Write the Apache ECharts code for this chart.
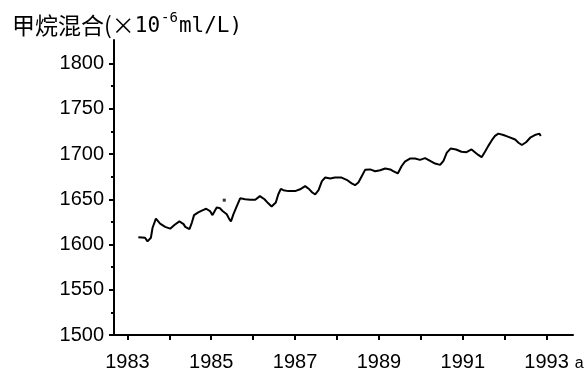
<!DOCTYPE html>
<html>
<head>
<meta charset="utf-8">
<script src="https://cdn.jsdelivr.net/npm/echarts@6/dist/echarts.min.js"></script>
<style>
  html, body { margin: 0; padding: 0; background: #fff; }
  #chart { width: 587px; height: 372px; }
</style>
</head>
<body>
<div id="chart"></div>
<script>
// Atmospheric methane mixing ratio, 1983–1993 (×10⁻⁶ ml/L)
const years = [
  1983.26, 1983.42, 1983.48, 1983.56, 1983.60, 1983.68, 1983.78, 1983.90,
  1984.02, 1984.12, 1984.24, 1984.34, 1984.38, 1984.48, 1984.54, 1984.59,
  1984.69, 1984.80, 1984.88, 1984.97, 1985.03, 1985.13, 1985.21, 1985.27,
  1985.37, 1985.43, 1985.47, 1985.53, 1985.61, 1985.69, 1985.81, 1985.93,
  1986.05, 1986.16, 1986.27, 1986.36, 1986.44, 1986.54, 1986.60, 1986.66,
  1986.72, 1986.84, 1987.00, 1987.12, 1987.24, 1987.34, 1987.41, 1987.48,
  1987.56, 1987.64, 1987.72, 1987.84, 1987.95, 1988.11, 1988.23, 1988.35,
  1988.43, 1988.51, 1988.59, 1988.67, 1988.79, 1988.91, 1989.03, 1989.15,
  1989.27, 1989.34, 1989.45, 1989.54, 1989.62, 1989.74, 1989.86, 1989.98,
  1990.10, 1990.20, 1990.34, 1990.46, 1990.54, 1990.62, 1990.71, 1990.84,
  1990.97, 1991.09, 1991.21, 1991.29, 1991.37, 1991.45, 1991.53, 1991.61,
  1991.69, 1991.77, 1991.85, 1991.97, 1992.09, 1992.25, 1992.33, 1992.41,
  1992.51, 1992.62, 1992.72, 1992.83, 1992.86
];
const methane = [
  1608, 1607.5, 1603.5, 1607.5, 1618.5, 1628.5, 1623, 1619.5,
  1617.5, 1621.5, 1625.5, 1622.5, 1619.5, 1617, 1624.5, 1632.5,
  1635.5, 1638, 1639.5, 1637, 1632.5, 1641, 1640, 1637,
  1633.5, 1628, 1625.5, 1633.5, 1642.5, 1651, 1650, 1649.5,
  1649.5, 1653.5, 1650, 1645.5, 1642, 1646.5, 1655.5, 1661.5,
  1660, 1659, 1659, 1661, 1664.5, 1661, 1657.5, 1655.5,
  1660, 1670, 1674, 1673, 1674, 1674, 1671.5, 1667.5,
  1665.5, 1668.5, 1675.5, 1682.5, 1683, 1681, 1682, 1684,
  1683, 1681, 1678.5, 1686.5, 1691.5, 1695, 1695, 1693.5,
  1695.5, 1693, 1689.5, 1688, 1692.5, 1701.5, 1706, 1705,
  1702.5, 1702, 1705, 1702, 1699, 1696.5, 1702.5, 1709,
  1715, 1720, 1722.5, 1721, 1719, 1716, 1712.5, 1710,
  1713, 1718.5, 1721, 1722.5, 1720
];
// isolated reading standing off the curve in 1985
const strayYears = [1985.31];
const strayValues = [1649];

const xMajorTicks = [1983, 1984, 1985, 1986, 1987, 1988, 1989, 1990, 1991, 1992, 1993];
const xLabels = [1983, 1985, 1987, 1989, 1991, 1993];
const yMajorTicks = [1500, 1550, 1600, 1650, 1700, 1750, 1800];
const yMinorTicks = [1525, 1575, 1625, 1675, 1725, 1775];

const titleText = '{c|甲烷混合(×}{m|10}{s|-6}{m|ml/L)}';
const xUnit = 'a';

const zip = (a, b) => a.map((v, i) => [v, b[i]]);

const labelFont = {
  color: '#000',
  fontFamily: '"Liberation Sans", Arial, sans-serif',
  fontSize: 20
};

const chart = echarts.init(document.getElementById('chart'), null, { renderer: 'canvas' });
chart.setOption({
  backgroundColor: '#fff',
  animation: false,
  title: {
    text: titleText,
    left: 12,
    top: 11,
    padding: 0,
    textStyle: {
      color: '#000',
      fontSize: 23,
      fontWeight: 'normal',
      rich: {
        c: {
          color: '#000',
          fontFamily: '"Noto Sans CJK SC", sans-serif',
          fontSize: 23,
          verticalAlign: 'bottom'
        },
        m: {
          color: '#000',
          fontFamily: '"DejaVu Sans Mono", monospace',
          fontSize: 21,
          verticalAlign: 'bottom'
        },
        s: {
          color: '#000',
          fontFamily: '"DejaVu Sans Mono", monospace',
          fontSize: 14,
          verticalAlign: 'top',
          padding: [0, 1, 12, 1]
        }
      }
    }
  },
  grid: { left: 114, right: 14, top: 40, bottom: 36, containLabel: false },
  xAxis: {
    type: 'value',
    min: 1982.68,
    max: 1993.63,
    name: xUnit,
    nameLocation: 'end',
    nameGap: -10,
    nameTextStyle: {
      color: '#000',
      fontFamily: '"Liberation Sans", Arial, sans-serif',
      fontSize: 16,
      verticalAlign: 'top',
      align: 'left',
      padding: [21, 0, 0, 0]
    },
    axisLine: { show: true, lineStyle: { color: '#000', width: 2 } },
    axisTick: { show: true, length: 5, lineStyle: { color: '#000', width: 2 }, customValues: xMajorTicks },
    axisLabel: Object.assign({ margin: 17, customValues: xLabels, formatter: v => String(v) }, labelFont),
    splitLine: { show: false }
  },
  yAxis: [
    {
      type: 'value',
      min: 1500,
      max: 1826,
      axisLine: { show: true, lineStyle: { color: '#000', width: 2 } },
      axisTick: { show: true, length: 5, lineStyle: { color: '#000', width: 2 }, customValues: yMajorTicks },
      axisLabel: Object.assign({ margin: 10, customValues: yMajorTicks, formatter: v => String(v) }, labelFont),
      splitLine: { show: false }
    },
    {
      type: 'value',
      min: 1500,
      max: 1826,
      position: 'left',
      axisLine: { show: false },
      axisTick: { show: true, length: 3, lineStyle: { color: '#000', width: 2 }, customValues: yMinorTicks },
      axisLabel: { show: false },
      splitLine: { show: false }
    }
  ],
  series: [
    {
      type: 'line',
      data: zip(years, methane),
      showSymbol: false,
      symbol: 'none',
      lineStyle: { color: '#000', width: 2 },
      z: 3
    },
    {
      type: 'scatter',
      data: zip(strayYears, strayValues),
      symbol: 'rect',
      symbolSize: 3,
      itemStyle: { color: '#000' },
      z: 3
    }
  ]
});
</script>
</body>
</html>
